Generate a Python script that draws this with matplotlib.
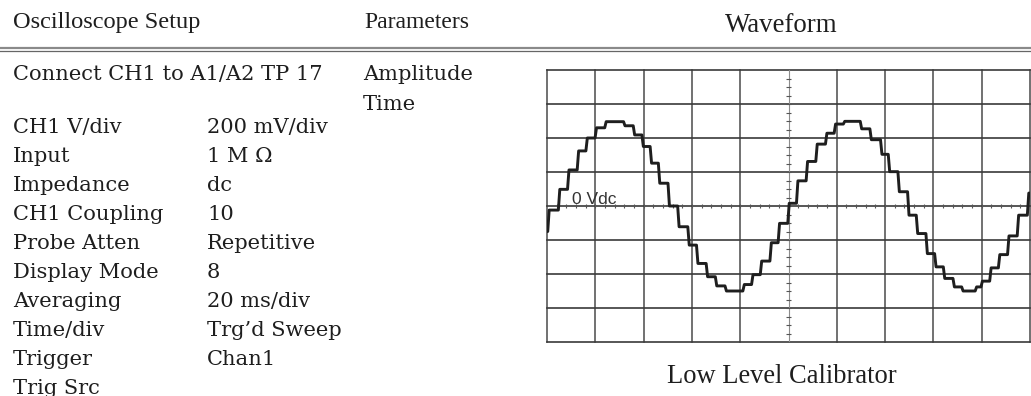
import matplotlib
matplotlib.use("Agg")
import matplotlib.pyplot as plt
from matplotlib.lines import Line2D
import numpy as np

# 1. Data
setup_labels = ["CH1 V/div", "Input", "Impedance", "CH1 Coupling", "Probe Atten",
                "Display Mode", "Averaging", "Time/div", "Trigger", "Trig Src"]
setup_values = ["200 mV/div", "1 M \u03a9", "dc", "10", "Repetitive",
                "8", "20 ms/div", "Trg\u2019d Sweep", "Chan1", ""]
parameters = ["Amplitude", "Time"]

# waveform: level (in divisions) at the left edge, then start time / level of each step
start_level = -0.75
step_start = [0.03, 0.25, 0.44, 0.64, 0.82, 1.01, 1.21, 1.60, 1.80, 1.98,
              2.15, 2.32, 2.52, 2.72, 2.93, 3.11, 3.31, 3.50, 3.70, 4.07,
              4.25, 4.43, 4.63, 4.80, 5.00, 5.18, 5.38, 5.58, 5.78, 5.96,
              6.15, 6.50, 6.70, 6.92, 7.08, 7.28, 7.48, 7.66, 7.86, 8.04,
              8.22, 8.42, 8.60, 8.88, 9.00, 9.18, 9.36, 9.55, 9.75, 9.96]
step_level = [-0.12, 0.49, 1.06, 1.62, 2.00, 2.30, 2.48, 2.36, 2.09, 1.75,
              1.26, 0.67, 0.00, -0.61, -1.15, -1.69, -2.08, -2.35, -2.50, -2.31,
              -2.02, -1.62, -1.08, -0.51, 0.08, 0.74, 1.31, 1.82, 2.14, 2.41,
              2.49, 2.27, 1.95, 1.52, 1.01, 0.42, -0.27, -0.81, -1.40, -1.79,
              -2.13, -2.38, -2.50, -2.38, -2.21, -1.82, -1.43, -0.88, -0.27, 0.38]

# 2. Figure in pixel units
W, H = 1031, 396
fig = plt.figure(figsize=(W / 100, H / 100), dpi=100)
renderer = fig.canvas.get_renderer()


def fx(x):
    return x / W


def fy(y):
    return 1 - y / H


def put(x, y, s, size, family, ha="left", width=None):
    t = fig.text(fx(x), fy(y), s, fontsize=size, family=family, ha=ha,
                 va="baseline", color="#1e1e1e")
    if width:
        w = t.get_window_extent(renderer).width
        t.set_fontsize(size * width / w)
    return t


# 3. Header
put(13, 28, "Oscilloscope Setup", 17, "Liberation Serif", width=188)
put(364, 28, "Parameters", 17, "Liberation Serif")
put(781.5, 32, "Waveform", 19, "Liberation Serif", ha="center", width=113)
fig.add_artist(Line2D([0, 1], [fy(47.5), fy(47.5)], color="#8a8a8a", lw=1.6))
fig.add_artist(Line2D([0, 1], [fy(51), fy(51)], color="#666666", lw=0.9))

# 4. Left / middle columns
t = put(13, 80, "Connect CH1 to A1/A2 TP 17", 15, "DejaVu Serif", width=310)
body = t.get_fontsize()
for i, (lab, val) in enumerate(zip(setup_labels, setup_values)):
    y = 133 + 29 * i
    put(13, y, lab, body, "DejaVu Serif")
    if val:
        put(207, y, val, body, "DejaVu Serif")
for i, p in enumerate(parameters):
    put(363, 80 + 30 * i, p, body, "DejaVu Serif")

# 5. Oscilloscope graticule
ax = fig.add_axes([fx(547), fy(342), 483 / W, 272 / H])
ax.set_xlim(0, 10)
ax.set_ylim(-4, 4)
ax.axis("off")

for xv in range(11):
    if xv == 5:
        continue
    ax.axvline(xv, color="#4a4a4a", lw=1.1, clip_on=False)
for yv in range(-4, 5):
    ax.axhline(yv, color="#3a3a3a", lw=1.2, clip_on=False)
ax.axvline(5, color="#8c8c8c", lw=0.8)

tx = np.arange(0.2, 10, 0.2)
ax.vlines(tx, -0.07, 0.07, color="#555555", lw=0.8)
ty = np.arange(-3.75, 4, 0.25)
ax.hlines(ty, 5 - 0.05, 5 + 0.05, color="#555555", lw=0.8)

ax.text(0.52, 0.05, "0 Vdc", family="Liberation Sans", fontsize=12.5,
        color="#333333", va="baseline")

# 6. Staircase waveform
xs = [0.0]
ys = [start_level]
prev = start_level
for ts, lv in zip(step_start, step_level):
    xs += [ts - 0.015, ts + 0.015]
    ys += [prev, lv]
    prev = lv
xs.append(10.0)
ys.append(prev)
ax.plot(xs, ys, color="#1e1e1e", lw=2.1, solid_joinstyle="round")

put(782, 383, "Low Level Calibrator", 19, "Liberation Serif", ha="center", width=230)

fig.savefig("out.png", dpi=100)
